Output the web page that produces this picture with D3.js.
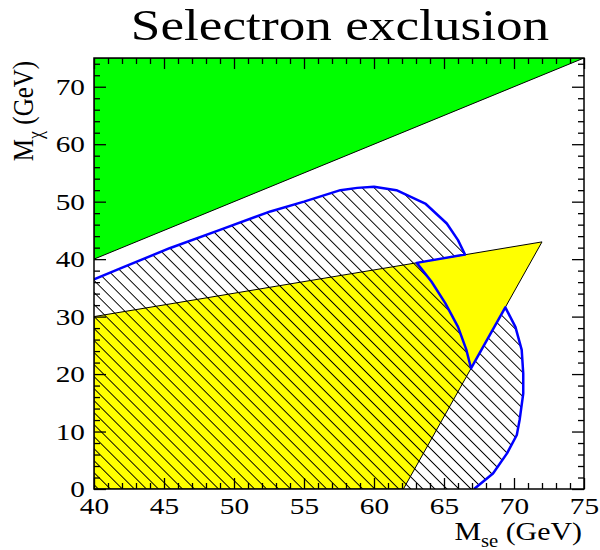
<!DOCTYPE html>
<html>
<head>
<meta charset="utf-8">
<script src="https://cdn.jsdelivr.net/npm/d3@7"></script>
<style>
  html, body { margin: 0; padding: 0; background: #fff; }
  svg { display: block; }
  text { font-family: "Liberation Serif", "Times New Roman", serif; fill: #000; }
</style>
</head>
<body>
<svg id="chart" width="600" height="550"></svg>
<script>
// Axis ranges (GeV)
const xDomain = [40, 75];
const yDomain = [0, 75];
const xMajorTicks = [40, 45, 50, 55, 60, 65, 70, 75];
const yMajorTicks = [0, 10, 20, 30, 40, 50, 60, 70];

// Kinematically forbidden region: M_chi > M_se
const greenRegion = [[40, 40], [75, 75], [40, 75]];

// Yellow excluded region
const yellowRegion = [[40, 0], [40, 30], [72, 43], [62.1, 0]];

// Blue exclusion contour (M_se, M_chi), from the left edge down to M_chi = 0
const contourMse = [40, 42.1, 45.4, 49.0, 52.6, 55.0, 57.6, 58.8, 60.0, 61.6, 63.7, 65.2, 66.0, 66.5,
                    63.05, 64.1, 65.1, 66.0, 66.6, 66.93,
                    69.38, 70.1, 70.55, 70.66, 70.66, 70.4, 70.2, 69.5, 68.5, 67.15];
const contourMchi = [36.5, 38.6, 41.9, 45.1, 48.3, 50.0, 52.0, 52.4, 52.6, 52.0, 49.6, 46.2, 43.3, 40.8,
                     39.35, 36.1, 32.3, 28.2, 24.2, 21.0,
                     31.6, 28.2, 24.2, 20.1, 16.6, 12.0, 9.4, 6.2, 2.7, 0];

// Text is drawn slightly widened horizontally
const textStretch = 1.22;

const svg = d3.select("#chart");
const x = d3.scaleLinear().domain(xDomain).range([94, 584]);
const y = d3.scaleLinear().domain(yDomain).range([489, 58]);

// Hatch pattern for the contour-excluded area
const defs = svg.append("defs");
const pat = defs.append("pattern")
  .attr("id", "hatch")
  .attr("patternUnits", "userSpaceOnUse")
  .attr("width", 8.5).attr("height", 8.5)
  .attr("patternTransform", "rotate(-45)");
pat.append("line")
  .attr("x1", 4.25).attr("y1", -2).attr("x2", 4.25).attr("y2", 11)
  .attr("stroke", "#000").attr("stroke-width", 1);

defs.append("clipPath").attr("id", "frame")
  .append("rect")
  .attr("x", x(xDomain[0])).attr("y", y(yDomain[1]))
  .attr("width", x(xDomain[1]) - x(xDomain[0]))
  .attr("height", y(yDomain[0]) - y(yDomain[1]));

const plot = svg.append("g").attr("clip-path", "url(#frame)");
const poly = d3.line().x(d => x(d[0])).y(d => y(d[1]));

plot.append("path")
  .attr("d", poly(greenRegion) + "Z")
  .attr("fill", "#00ff00")
  .attr("stroke", "#000").attr("stroke-width", 1);

plot.append("path")
  .attr("d", poly(yellowRegion) + "Z")
  .attr("fill", "#ffff00")
  .attr("stroke", "#000").attr("stroke-width", 1);

const contour = contourMse.map((v, i) => [v, contourMchi[i]]);
const hatchArea = contour.concat([[xDomain[0], 0]]);

plot.append("path")
  .attr("d", poly(hatchArea) + "Z")
  .attr("fill", "url(#hatch)")
  .attr("stroke", "none");

plot.append("path")
  .attr("d", poly(contour))
  .attr("fill", "none")
  .attr("stroke", "#0000ff")
  .attr("stroke-width", 2.5)
  .attr("stroke-linejoin", "round");

// Frame
svg.append("rect")
  .attr("x", x(xDomain[0])).attr("y", y(yDomain[1]))
  .attr("width", x(xDomain[1]) - x(xDomain[0]))
  .attr("height", y(yDomain[0]) - y(yDomain[1]))
  .attr("fill", "none").attr("stroke", "#000").attr("stroke-width", 1.5);

// Inward ticks on all four sides
const xMinor = d3.range(40, 75.01, 1).filter(v => v % 5 !== 0);
const yMinor = d3.range(0, 75.01, 2).filter(v => v % 10 !== 0);

function styleAxis(g) {
  g.select(".domain").remove();
  g.selectAll(".tick line").attr("stroke", "#000").attr("stroke-width", 1.3);
}
function styleLabels(g) {
  g.selectAll("text")
    .attr("font-size", 24)
    .attr("font-family", "Liberation Serif")
    .attr("transform", `scale(${textStretch},1)`);
}

svg.append("g").attr("transform", `translate(0,${y(0)})`)
  .call(d3.axisBottom(x).tickValues(xMajorTicks).tickSize(-11).tickPadding(8).tickFormat(d3.format("d")))
  .call(styleAxis).call(styleLabels);
svg.append("g").attr("transform", `translate(0,${y(0)})`)
  .call(d3.axisBottom(x).tickValues(xMinor).tickSize(-6).tickFormat(""))
  .call(styleAxis);
svg.append("g").attr("transform", `translate(0,${y(75)})`)
  .call(d3.axisTop(x).tickValues(xMajorTicks).tickSize(-11).tickFormat(""))
  .call(styleAxis);
svg.append("g").attr("transform", `translate(0,${y(75)})`)
  .call(d3.axisTop(x).tickValues(xMinor).tickSize(-6).tickFormat(""))
  .call(styleAxis);

svg.append("g").attr("transform", `translate(${x(40)},0)`)
  .call(d3.axisLeft(y).tickValues(yMajorTicks).tickSize(-12).tickPadding(7.4).tickFormat(d3.format("d")))
  .call(styleAxis).call(styleLabels);
svg.append("g").attr("transform", `translate(${x(40)},0)`)
  .call(d3.axisLeft(y).tickValues(yMinor).tickSize(-6).tickFormat(""))
  .call(styleAxis);
svg.append("g").attr("transform", `translate(${x(75)},0)`)
  .call(d3.axisRight(y).tickValues(yMajorTicks).tickSize(-12).tickFormat(""))
  .call(styleAxis);
svg.append("g").attr("transform", `translate(${x(75)},0)`)
  .call(d3.axisRight(y).tickValues(yMinor).tickSize(-6).tickFormat(""))
  .call(styleAxis);

// Title
svg.append("g").attr("transform", `translate(340,40) scale(${textStretch * 0.97},1)`)
  .append("text")
  .attr("text-anchor", "middle")
  .attr("font-size", 45)
  .text("Selectron exclusion");

// X axis title
const xt = svg.append("g").attr("transform", `translate(582,540) scale(1.15,1)`)
  .append("text")
  .attr("text-anchor", "end")
  .attr("font-size", 26);
xt.append("tspan").text("M");
xt.append("tspan").attr("font-size", 18).attr("dy", 7).text("se");
xt.append("tspan").attr("dy", -7).text(" (GeV)");

// Y axis title
const yt = svg.append("text")
  .attr("transform", `translate(33,111) rotate(-90) scale(1,${textStretch})`)
  .attr("text-anchor", "middle")
  .attr("font-size", 25);
yt.append("tspan").text("M");
yt.append("tspan").attr("font-size", 18).attr("dy", 7).text("χ");
yt.append("tspan").attr("dy", -7).text(" (GeV)");
</script>
</body>
</html>
